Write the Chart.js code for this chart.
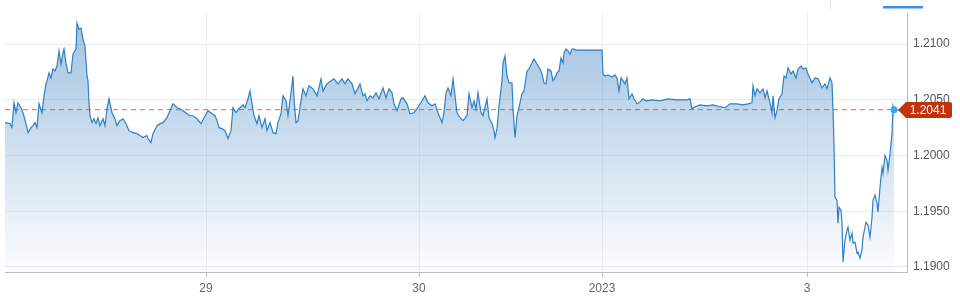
<!DOCTYPE html>
<html>
<head>
<meta charset="utf-8">
<script src="https://cdn.jsdelivr.net/npm/chart.js@4.4.0/dist/chart.umd.min.js"></script>
<style>
  body { margin: 0; background: #fff; }
  canvas { display: block; }
</style>
</head>
<body>
<canvas id="fxChart" width="960" height="307"></canvas>
<script>
// trading-time position (compressed) and EUR/USD-style quote
const times = [
  0, 5, 7, 9, 11, 13, 16, 18, 21, 23, 26, 28, 30, 32, 34, 37, 39, 41, 42, 44,
  46, 48, 50, 52, 54, 56, 58, 59, 61, 63, 66, 68, 71, 72, 74, 76, 78, 80, 82, 83,
  84, 85, 87, 89, 91, 93, 95, 98, 100, 102, 104, 107, 110, 112, 115, 118, 121, 124, 128, 132,
  135, 138, 142, 143, 146, 148, 152, 155, 158, 162, 165, 168, 172, 175, 178, 182, 185, 188, 192, 196,
  199, 203, 207, 210, 212, 214, 217, 220, 223, 226, 228, 231, 234, 238, 240, 243, 245, 247, 249, 252,
  254, 257, 260, 262, 265, 268, 271, 273, 276, 278, 281, 283, 286, 288, 289, 291, 293, 296, 298, 301,
  304, 308, 312, 316, 318, 322, 326, 329, 333, 337, 340, 343, 347, 350, 353, 355, 358, 360, 362, 365,
  368, 371, 374, 378, 381, 384, 387, 389, 392, 396, 398, 402, 405, 409, 412, 417, 420, 423, 427, 430,
  433, 437, 439, 441, 443, 446, 448, 450, 452, 455, 458, 462, 464, 467, 469, 471, 473, 476, 478, 482,
  484, 487, 489, 490, 492, 494, 497, 498, 500, 502, 504, 507, 508, 510, 512, 514, 517, 519, 522, 524,
  527, 529, 532, 535, 537, 539, 541, 543, 546, 548, 550, 552, 554, 556, 558, 559, 561, 563, 565, 567,
  569, 571, 597, 598, 600, 603, 607, 610, 612, 614, 616, 618, 620, 622, 624, 627, 629, 632, 634, 638,
  641, 647, 655, 663, 672, 682, 685, 687, 690, 695, 702, 708, 715, 720, 725, 732, 738, 743, 747, 748,
  750, 752, 755, 758, 760, 762, 765, 767, 768, 770, 772, 774, 777, 779, 781, 783, 786, 788, 791, 793,
  796, 798, 801, 803, 807, 810, 813, 817, 820, 822, 825, 827, 828, 829, 830, 832, 833, 834, 836, 837,
  838, 840, 842, 843, 845, 847, 848, 850, 852, 853, 855, 857, 858, 861, 863, 865, 867, 868, 870, 872,
  873, 875, 877, 878, 880, 882, 883, 885, 887, 888, 889
];
const rates = [
  1.20295, 1.20286, 1.20250, 1.20473, 1.20384, 1.20473, 1.20429, 1.20384, 1.20286, 1.20205,
  1.20250, 1.20268, 1.20295, 1.20250, 1.20464, 1.20384, 1.20536, 1.20643, 1.20670, 1.20741,
  1.20696, 1.20777, 1.20759, 1.20804, 1.20938, 1.20821, 1.20920, 1.20955, 1.20830, 1.20741,
  1.20741, 1.20911, 1.20955, 1.21188, 1.21134, 1.21143, 1.21045, 1.20982, 1.20714, 1.20670,
  1.20473, 1.20357, 1.20295, 1.20330, 1.20286, 1.20339, 1.20268, 1.20330, 1.20268, 1.20420,
  1.20509, 1.20384, 1.20330, 1.20268, 1.20313, 1.20330, 1.20286, 1.20223, 1.20205, 1.20196,
  1.20179, 1.20161, 1.20179, 1.20152, 1.20116, 1.20196, 1.20268, 1.20286, 1.20295, 1.20339,
  1.20402, 1.20464, 1.20429, 1.20420, 1.20402, 1.20375, 1.20357, 1.20357, 1.20330, 1.20286,
  1.20339, 1.20402, 1.20375, 1.20357, 1.20313, 1.20250, 1.20241, 1.20223, 1.20152, 1.20223,
  1.20429, 1.20384, 1.20420, 1.20455, 1.20429, 1.20509, 1.20580, 1.20464, 1.20357, 1.20286,
  1.20357, 1.20250, 1.20330, 1.20223, 1.20295, 1.20205, 1.20196, 1.20295, 1.20375, 1.20536,
  1.20491, 1.20357, 1.20563, 1.20714, 1.20509, 1.20295, 1.20313, 1.20491, 1.20598, 1.20536,
  1.20625, 1.20598, 1.20536, 1.20688, 1.20580, 1.20643, 1.20670, 1.20688, 1.20643, 1.20688,
  1.20643, 1.20688, 1.20643, 1.20554, 1.20607, 1.20643, 1.20536, 1.20554, 1.20491, 1.20536,
  1.20518, 1.20563, 1.20509, 1.20607, 1.20518, 1.20598, 1.20563, 1.20464, 1.20402, 1.20509,
  1.20518, 1.20464, 1.20375, 1.20384, 1.20420, 1.20491, 1.20536, 1.20473, 1.20446, 1.20464,
  1.20384, 1.20295, 1.20384, 1.20563, 1.20607, 1.20536, 1.20688, 1.20536, 1.20384, 1.20339,
  1.20313, 1.20357, 1.20554, 1.20429, 1.20491, 1.20420, 1.20563, 1.20384, 1.20357, 1.20509,
  1.20339, 1.20286, 1.20223, 1.20161, 1.20241, 1.20446, 1.20670, 1.20830, 1.20893, 1.20714,
  1.20652, 1.20652, 1.20420, 1.20161, 1.20357, 1.20429, 1.20554, 1.20580, 1.20759, 1.20777,
  1.20830, 1.20866, 1.20821, 1.20777, 1.20732, 1.20652, 1.20643, 1.20777, 1.20759, 1.20670,
  1.20696, 1.20741, 1.20759, 1.20875, 1.20830, 1.20920, 1.20955, 1.20938, 1.20911, 1.20955,
  1.20955, 1.20946, 1.20946, 1.20732, 1.20714, 1.20723, 1.20705, 1.20723, 1.20696, 1.20580,
  1.20696, 1.20670, 1.20643, 1.20696, 1.20509, 1.20554, 1.20509, 1.20464, 1.20473, 1.20509,
  1.20491, 1.20500, 1.20491, 1.20509, 1.20500, 1.20500, 1.20509, 1.20420, 1.20438, 1.20455,
  1.20446, 1.20455, 1.20438, 1.20429, 1.20464, 1.20464, 1.20455, 1.20464, 1.20473, 1.20625,
  1.20536, 1.20598, 1.20563, 1.20598, 1.20518, 1.20580, 1.20473, 1.20384, 1.20536, 1.20339,
  1.20402, 1.20509, 1.20554, 1.20714, 1.20696, 1.20786, 1.20732, 1.20759, 1.20696, 1.20777,
  1.20804, 1.20777, 1.20786, 1.20732, 1.20652, 1.20696, 1.20688, 1.20607, 1.20643, 1.20598,
  1.20696, 1.20652, 1.20402, 1.20089, 1.19625, 1.19598, 1.19393, 1.19536, 1.19509, 1.19393,
  1.19045, 1.19241, 1.19330, 1.19357, 1.19241, 1.19304, 1.19214, 1.19223, 1.19125, 1.19134,
  1.19080, 1.19152, 1.19268, 1.19402, 1.19375, 1.19268, 1.19446, 1.19598, 1.19643, 1.19571,
  1.19491, 1.19714, 1.19893, 1.19839, 1.20000, 1.19955, 1.19866, 1.20018, 1.20196, 1.20446,
  1.20411
];

const xTickPositions = [201, 414, 597, 802];
const xTickLabels = ["29", "30", "2023", "3"];
const yTicks = [1.19, 1.195, 1.2, 1.205, 1.21];
const lastRate = rates[rates.length - 1];

const points = times.map((t, i) => ({ x: t, y: rates[i] }));

const lastQuote = {
  id: "lastQuote",
  beforeDatasetsDraw(chart) {
    const { ctx, chartArea } = chart;
    const y = chart.scales.y.getPixelForValue(lastRate);
    ctx.save();
    ctx.strokeStyle = "rgba(226, 112, 88, 0.85)";
    ctx.lineWidth = 1.2;
    ctx.setLineDash([5, 4]);
    ctx.beginPath();
    ctx.moveTo(chartArea.left, y);
    ctx.lineTo(chartArea.right, y);
    ctx.stroke();
    ctx.restore();
  },
  afterDraw(chart) {
    const { ctx, chartArea } = chart;
    const y = Math.round(chart.scales.y.getPixelForValue(lastRate));
    const tip = chartArea.right - 9;
    ctx.save();
    ctx.fillStyle = "#bf340d";
    ctx.beginPath();
    ctx.moveTo(tip, y);
    ctx.lineTo(tip + 8, y - 8);
    ctx.lineTo(950, y - 8);
    ctx.quadraticCurveTo(952, y - 8, 952, y - 6);
    ctx.lineTo(952, y + 6);
    ctx.quadraticCurveTo(952, y + 8, 950, y + 8);
    ctx.lineTo(tip + 8, y + 8);
    ctx.closePath();
    ctx.fill();
    ctx.fillStyle = "#fff";
    ctx.font = "12px 'Liberation Sans', Arial, sans-serif";
    ctx.textAlign = "center";
    ctx.textBaseline = "middle";
    ctx.fillText(lastRate.toFixed(4), 928, y + 1);
    // toolbar bits above the plot
    ctx.fillStyle = "#3b8fe6";
    ctx.fillRect(883, 6, 40, 2.5);
    ctx.fillStyle = "#e4e4e4";
    ctx.fillRect(830, 0, 1, 9);
    ctx.restore();
  },
};

new Chart(document.getElementById("fxChart"), {
  type: "line",
  data: {
    datasets: [
      {
        data: points,
        borderColor: "#2f80c4",
        borderWidth: 1.2,
        tension: 0,
        fill: "start",
        backgroundColor: (c) => {
          const area = c.chart.chartArea;
          if (!area) return "rgba(47,120,190,0.3)";
          const g = c.chart.ctx.createLinearGradient(0, area.top, 0, area.bottom);
          g.addColorStop(0, "rgba(47,120,190,0.46)");
          g.addColorStop(0.5, "rgba(47,120,190,0.24)");
          g.addColorStop(1, "rgba(47,120,190,0.01)");
          return g;
        },
        pointRadius: (c) => (c.dataIndex === points.length - 1 ? 3.5 : 0),
        pointBackgroundColor: "#2aaef0",
        pointBorderWidth: 0,
      },
    ],
  },
  options: {
    responsive: false,
    animation: false,
    devicePixelRatio: 1,
    layout: { padding: { left: 5, top: 12, right: 0, bottom: 0 } },
    plugins: { legend: { display: false }, tooltip: { enabled: false } },
    scales: {
      x: {
        type: "linear",
        min: 0,
        max: 902,
        afterFit: (s) => { s.height = 35; },
        afterBuildTicks: (s) => { s.ticks = xTickPositions.map((v) => ({ value: v })); },
        ticks: {
          callback: (v, i) => xTickLabels[i],
          color: "#666",
          font: { family: "'Liberation Sans', Arial, sans-serif", size: 12 },
          padding: 4,
          maxRotation: 0,
          autoSkip: false,
        },
        grid: { color: "#efefef", tickLength: 5, tickColor: "#bbb" },
        border: { color: "#bbb", width: 1 },
      },
      y: {
        position: "right",
        min: 1.18955,
        max: 1.21277,
        afterFit: (s) => { s.width = 53; },
        afterBuildTicks: (s) => { s.ticks = yTicks.map((v) => ({ value: v })); },
        ticks: {
          callback: (v) => v.toFixed(4),
          color: "#555",
          font: { family: "'Liberation Sans', Arial, sans-serif", size: 12 },
          padding: 6,
        },
        grid: { color: "#ececec", drawTicks: false },
        border: { color: "#bbb", width: 1 },
      },
    },
  },
  plugins: [lastQuote],
});
</script>
</body>
</html>
